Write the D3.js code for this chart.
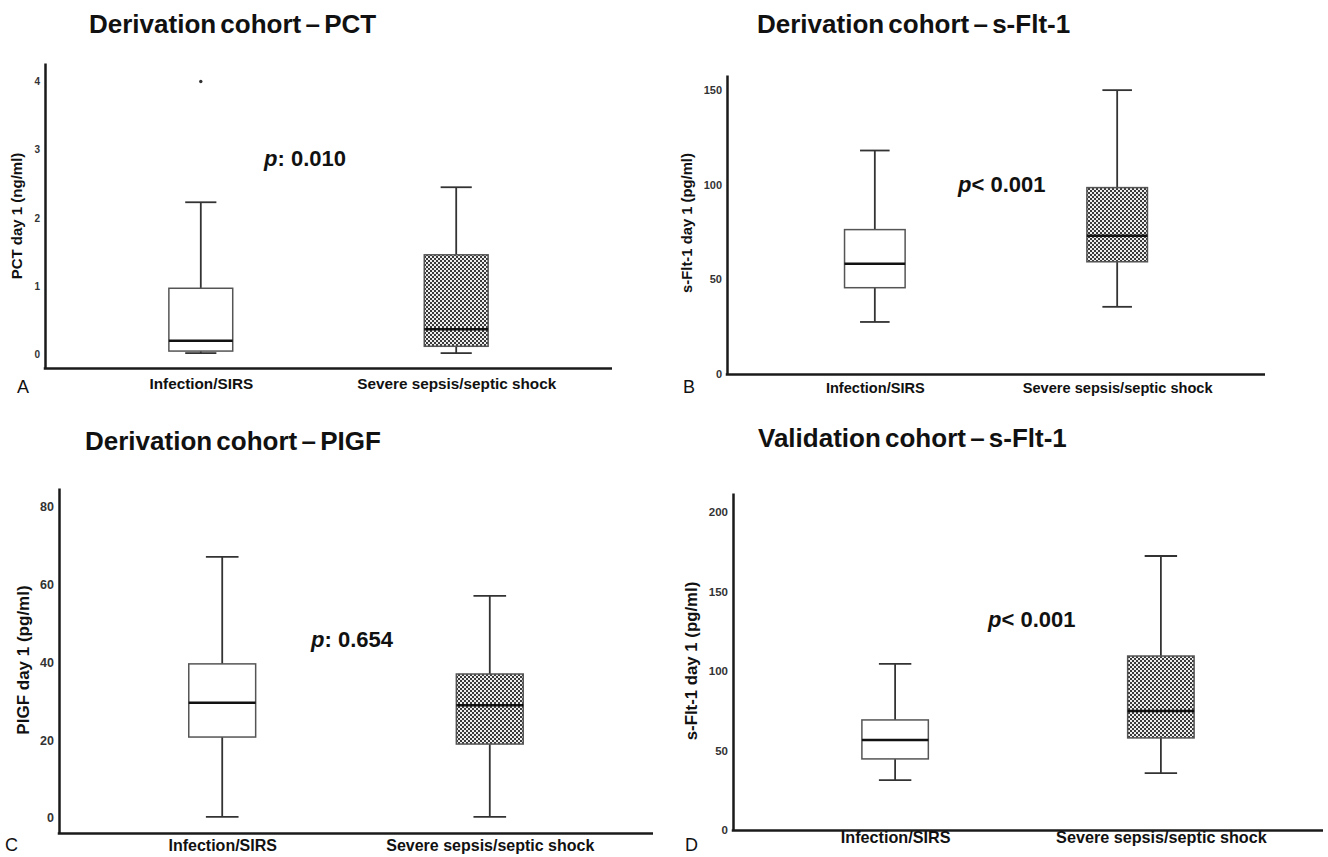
<!DOCTYPE html>
<html>
<head>
<meta charset="utf-8">
<script src="https://cdn.jsdelivr.net/npm/d3@7"></script>
<style>
  body { margin: 0; background: #fff; }
  text { font-family: "Liberation Sans", Arial, sans-serif; }
</style>
</head>
<body>
<script>
// ---- data ----
const categories = ["Infection/SIRS", "Severe sepsis/septic shock"];

// each group: [lower whisker, Q1, median, Q3, upper whisker]
const pctStats = [[0.02, 0.05, 0.20, 0.97, 2.23], [0.02, 0.12, 0.37, 1.46, 2.45]];
const pctOutliers = [[4.0], []];
const pctTicks = [0, 1, 2, 3, 4];

const sflt1DerivStats = [[27.5, 45.6, 58.3, 76.3, 118.1], [35.5, 59.3, 73.1, 98.5, 150.0]];
const sflt1DerivTicks = [0, 50, 100, 150];

const plgfStats = [[0.3, 20.8, 29.6, 39.6, 67.1], [0.3, 19.0, 29.0, 37.0, 57.1]];
const plgfTicks = [0, 20, 40, 60, 80];

const sflt1ValidStats = [[31.4, 44.7, 56.6, 69.2, 104.4], [35.8, 57.9, 74.8, 109.4, 172.3]];
const sflt1ValidTicks = [0, 50, 100, 150, 200];

const titles = ["Derivation cohort \u2013 PCT", "Derivation cohort \u2013 s-Flt-1",
                "Derivation cohort \u2013 PIGF", "Validation cohort \u2013 s-Flt-1"];
const yLabels = ["PCT day 1 (ng/ml)", "s-Flt-1 day 1 (pg/ml)", "PIGF day 1 (pg/ml)", "s-Flt-1 day 1 (pg/ml)"];
const pTexts = [": 0.010", "< 0.001", ": 0.654", "< 0.001"];
const panelLetters = ["A", "B", "C", "D"];

// ---- layout ----
const panels = [
  { stats: pctStats, outliers: pctOutliers, ticks: pctTicks, yDomain: [-0.198, 4.27],
    x0: 45, x1: 612, yBottom: 368, yTop: 63,
    titleX: 89, titleY: 33, pX: 264, pY: 166, catPad: 10, catFs: 15.3,
    tickFs: 10, labX: 17, labY: 216, labFs: 15, letX: 17, letY: 393 },
  { stats: sflt1DerivStats, outliers: [[], []], ticks: sflt1DerivTicks, yDomain: [0, 158],
    x0: 727, x1: 1265, yBottom: 374, yTop: 75,
    titleX: 757, titleY: 33, pX: 958, pY: 192, catPad: 8.5, catFs: 14.6,
    tickFs: 11, labX: 687, labY: 223, labFs: 14.8, letX: 683, letY: 393 },
  { stats: plgfStats, outliers: [[], []], ticks: plgfTicks, yDomain: [-3.86, 84.8],
    x0: 59, x1: 653, yBottom: 833, yTop: 488,
    titleX: 85, titleY: 450, pX: 311, pY: 647, catPad: 7, catFs: 16,
    tickFs: 12.5, labX: 23, labY: 660, labFs: 17, letX: 5, letY: 851 },
  { stats: sflt1ValidStats, outliers: [[], []], ticks: sflt1ValidTicks, yDomain: [0, 211.9],
    x0: 733, x1: 1323, yBottom: 830, yTop: 493,
    titleX: 758, titleY: 447, pX: 988, pY: 627, catPad: 1.5, catFs: 16.2,
    tickFs: 11.5, labX: 691, labY: 661, labFs: 16.8, letX: 685, letY: 851 }
];

const svg = d3.select("body").append("svg")
    .attr("width", 1328)
    .attr("height", 857);

// checkered fill for the second group
const pattern = svg.append("defs").append("pattern")
    .attr("id", "checker")
    .attr("patternUnits", "userSpaceOnUse")
    .attr("width", 4)
    .attr("height", 4);
pattern.append("rect").attr("width", 4).attr("height", 4).attr("fill", "#eeeeee");
pattern.append("rect").attr("width", 2).attr("height", 2).attr("fill", "#3a3a3a");
pattern.append("rect").attr("x", 2).attr("y", 2).attr("width", 2).attr("height", 2).attr("fill", "#3a3a3a");

panels.forEach((p, k) => {
    const g = svg.append("g");

    const y = d3.scaleLinear().domain(p.yDomain).range([p.yBottom, p.yTop]);
    const x = d3.scalePoint().domain(categories).range([p.x0, p.x1]).padding(0.61);
    const boxW = x.step() * 0.25;
    const capW = x.step() * 0.122;

    // y axis
    const yAxis = g.append("g")
        .attr("transform", `translate(${p.x0},0)`)
        .call(d3.axisLeft(y).tickValues(p.ticks).tickFormat(d3.format("d"))
            .tickSize(0).tickSizeOuter(0).tickPadding(5));
    yAxis.select(".domain").attr("stroke", "#1a1a1a").attr("stroke-width", 2.5);
    yAxis.selectAll(".tick text")
        .style("font-family", '"Liberation Sans", Arial, sans-serif')
        .style("font-size", p.tickFs + "px")
        .style("font-weight", "bold")
        .attr("fill", "#333");

    // x axis
    const xAxis = g.append("g")
        .attr("transform", `translate(0,${p.yBottom})`)
        .call(d3.axisBottom(x).tickSize(0).tickSizeOuter(0).tickPadding(p.catPad));
    xAxis.select(".domain").attr("stroke", "#1a1a1a").attr("stroke-width", 2.5)
        .attr("d", `M${p.x0 - 1.25},0.5H${p.x1}`);
    xAxis.selectAll(".tick text")
        .style("font-family", '"Liberation Sans", Arial, sans-serif')
        .style("font-size", p.catFs + "px")
        .style("font-weight", "bold")
        .attr("fill", "#111");

    // boxes
    categories.forEach((c, i) => {
        const s = p.stats[i];
        const cx = x(c);
        const bg = g.append("g");

        bg.append("line")
            .attr("x1", cx).attr("x2", cx)
            .attr("y1", y(s[4])).attr("y2", y(s[3]))
            .attr("stroke", "#333").attr("stroke-width", 1.8);
        bg.append("line")
            .attr("x1", cx).attr("x2", cx)
            .attr("y1", y(s[1])).attr("y2", y(s[0]))
            .attr("stroke", "#333").attr("stroke-width", 1.8);

        [s[0], s[4]].forEach(v => {
            bg.append("line")
                .attr("x1", cx - capW / 2).attr("x2", cx + capW / 2)
                .attr("y1", y(v)).attr("y2", y(v))
                .attr("stroke", "#333").attr("stroke-width", 1.8);
        });

        bg.append("rect")
            .attr("x", cx - boxW / 2)
            .attr("y", y(s[3]))
            .attr("width", boxW)
            .attr("height", y(s[1]) - y(s[3]))
            .attr("fill", i === 0 ? "#fff" : "url(#checker)")
            .attr("stroke", "#555")
            .attr("stroke-width", 1.5);

        bg.append("line")
            .attr("x1", cx - boxW / 2).attr("x2", cx + boxW / 2)
            .attr("y1", y(s[2])).attr("y2", y(s[2]))
            .attr("stroke", "#111").attr("stroke-width", 2.5);

        p.outliers[i].forEach(v => {
            bg.append("circle")
                .attr("cx", cx).attr("cy", y(v)).attr("r", 1.7)
                .attr("fill", "#333");
        });
    });

    // title
    g.append("text")
        .attr("x", p.titleX)
        .attr("y", p.titleY)
        .style("font-size", "26px")
        .style("font-weight", "bold")
        .style("word-spacing", "-3px")
        .attr("fill", "#111")
        .text(titles[k]);

    // p value
    const pt = g.append("text")
        .attr("x", p.pX)
        .attr("y", p.pY)
        .style("font-size", "22px")
        .style("font-weight", "bold")
        .attr("fill", "#111");
    pt.append("tspan").style("font-style", "italic").text("p");
    pt.append("tspan").text(pTexts[k]);

    // y axis label
    g.append("text")
        .attr("transform", `translate(${p.labX},${p.labY}) rotate(-90)`)
        .attr("text-anchor", "middle")
        .attr("dy", "0.35em")
        .style("font-size", p.labFs + "px")
        .style("font-weight", "bold")
        .attr("fill", "#111")
        .text(yLabels[k]);

    // panel letter
    g.append("text")
        .attr("x", p.letX)
        .attr("y", p.letY)
        .style("font-size", "18px")
        .attr("fill", "#111")
        .text(panelLetters[k]);
});
</script>
</body>
</html>
